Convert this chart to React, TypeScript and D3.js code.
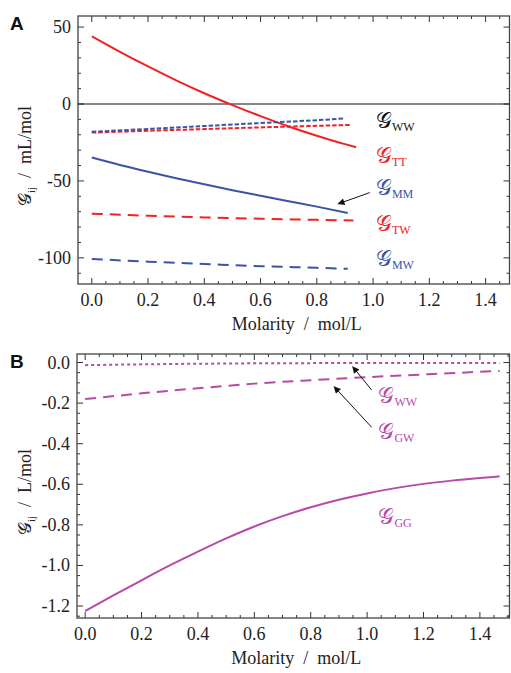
import { useEffect, useRef } from 'react';
import * as d3 from 'd3';

// Panel A (mL/mol)
const molA = [0, 0.1, 0.2, 0.3, 0.4, 0.5, 0.6, 0.7, 0.8, 0.9, 0.94];
const gTT = [44, 33.9, 24.4, 15.4, 7.0, -0.7, -7.9, -14.6, -20.6, -26.1, -28.1];
const molMM = [0, 0.1, 0.2, 0.3, 0.4, 0.5, 0.6, 0.7, 0.8, 0.91];
const gMM = [-34.8, -39.6, -44.0, -48.2, -52.2, -56.0, -59.6, -63.2, -66.7, -70.8];
const molWWblue = [0, 0.2, 0.4, 0.6, 0.8, 0.9];
const gWWblue = [-18.1, -16.2, -14.3, -12.4, -10.5, -9.4];
const molWWred = [0, 0.2, 0.4, 0.6, 0.8, 0.92];
const gWWred = [-18.6, -17.4, -16.3, -15.2, -14.2, -13.6];
const molTW = [0, 0.2, 0.4, 0.6, 0.8, 0.93];
const gTW = [-71.3, -72.6, -73.7, -74.6, -75.3, -75.7];
const molMW = [0, 0.2, 0.4, 0.6, 0.8, 0.91];
const gMW = [-100.7, -102.5, -104.0, -105.4, -106.5, -107.1];

// Panel B (L/mol)
const molB = [0, 0.1, 0.2, 0.3, 0.4, 0.5, 0.6, 0.7, 0.8, 0.9, 1.0, 1.1, 1.2, 1.3, 1.4, 1.47];
const gGG = [-1.225, -1.148, -1.073, -1.0, -0.932, -0.867, -0.808, -0.757, -0.713, -0.676, -0.645, -0.619, -0.598, -0.582, -0.569, -0.561];
const molB2 = [0, 0.2, 0.4, 0.6, 0.8, 1.0, 1.2, 1.47];
const gGW = [-0.18, -0.152, -0.127, -0.104, -0.087, -0.072, -0.059, -0.041];
const gWWb = [-0.013, -0.009, -0.006, -0.004, -0.003, -0.002, -0.002, -0.003];

const xTicks = [0, 0.2, 0.4, 0.6, 0.8, 1.0, 1.2, 1.4];
const yTicksA = [50, 0, -50, -100];
const yTicksB = [0, -0.2, -0.4, -0.6, -0.8, -1.0, -1.2];

const RED = '#ee2222';
const BLUE = '#3a54a6';
const MAG = '#b84aa6';
const SCRIPT_G = '\u{1D4A2}';

export default function App() {
  const svgRef = useRef<SVGSVGElement>(null);

  useEffect(() => {
    if (!svgRef.current) return;
    const svg = d3.select(svgRef.current);
    svg.selectAll('*').remove();

    const defs = svg.append('defs');
    defs.append('marker')
      .attr('id', 'arrowhead')
      .attr('viewBox', '0 0 10 10')
      .attr('refX', 9)
      .attr('refY', 5)
      .attr('markerWidth', 9)
      .attr('markerHeight', 7)
      .attr('markerUnits', 'userSpaceOnUse')
      .attr('orient', 'auto')
      .append('path')
      .attr('d', 'M0,0 L10,5 L0,10 z')
      .attr('fill', '#111');

    const serif = '"Liberation Serif", "DejaVu Serif", serif';

    const drawPanel = (opts: {
      x0: number; x1: number; y0: number; y1: number;
      xDomain: [number, number]; yDomain: [number, number];
      yTicks: number[]; yMinorStep: number; yFmt: (d: number) => string;
      letter: string; unit: string; zeroLine: boolean;
    }) => {
      const x = d3.scaleLinear().domain(opts.xDomain).range([opts.x0, opts.x1]);
      const y = d3.scaleLinear().domain(opts.yDomain).range([opts.y1, opts.y0]);
      const g = svg.append('g');

      // ticks, all inward on four sides
      const xMinor = d3.range(0, 1.5001, 0.05).filter(v => v >= opts.xDomain[0] && v <= opts.xDomain[1]);
      const [ya, yb] = opts.yDomain;
      const yMinor = d3.range(Math.ceil(ya / opts.yMinorStep), Math.floor(yb / opts.yMinorStep) + 1)
        .map(k => k * opts.yMinorStep);
      const isMajor = (v: number, arr: number[]) => arr.some(t => Math.abs(t - v) < 1e-6);
      const tickCol = '#333';
      xMinor.forEach(v => {
        const len = isMajor(v, xTicks) ? 6 : 3;
        g.append('line').attr('x1', x(v)).attr('x2', x(v)).attr('y1', opts.y1).attr('y2', opts.y1 - len)
          .attr('stroke', tickCol).attr('stroke-width', 1);
        g.append('line').attr('x1', x(v)).attr('x2', x(v)).attr('y1', opts.y0).attr('y2', opts.y0 + len)
          .attr('stroke', tickCol).attr('stroke-width', 1);
      });
      yMinor.forEach(v => {
        const len = isMajor(v, opts.yTicks) ? 6 : 3;
        g.append('line').attr('y1', y(v)).attr('y2', y(v)).attr('x1', opts.x0).attr('x2', opts.x0 + len)
          .attr('stroke', tickCol).attr('stroke-width', 1);
        g.append('line').attr('y1', y(v)).attr('y2', y(v)).attr('x1', opts.x1).attr('x2', opts.x1 - len)
          .attr('stroke', tickCol).attr('stroke-width', 1);
      });

      // frame
      g.append('rect')
        .attr('x', opts.x0).attr('y', opts.y0)
        .attr('width', opts.x1 - opts.x0).attr('height', opts.y1 - opts.y0)
        .attr('fill', 'none').attr('stroke', '#444').attr('stroke-width', 1.3);

      if (opts.zeroLine) {
        g.append('line').attr('x1', opts.x0).attr('x2', opts.x1).attr('y1', y(0)).attr('y2', y(0))
          .attr('stroke', '#111').attr('stroke-width', 1);
      }

      // tick labels
      xTicks.forEach(v => {
        g.append('text').attr('x', x(v)).attr('y', opts.y1 + 22)
          .attr('text-anchor', 'middle').attr('font-family', serif).attr('font-size', 18)
          .attr('fill', '#222').text(v.toFixed(1));
      });
      opts.yTicks.forEach(v => {
        g.append('text').attr('x', opts.x0 - 7).attr('y', y(v) + 6)
          .attr('text-anchor', 'end').attr('font-family', serif).attr('font-size', 18)
          .attr('fill', '#222').text(opts.yFmt(v));
      });

      // x axis title
      g.append('text').attr('x', (opts.x0 + opts.x1) / 2 + 3).attr('y', opts.y1 + 46)
        .attr('text-anchor', 'middle').attr('font-family', serif).attr('font-size', 18)
        .attr('fill', '#222').attr('xml:space', 'preserve').text('Molarity  /  mol/L');

      // y axis title
      const cy = (opts.y0 + opts.y1) / 2 + 6;
      const yt = g.append('text')
        .attr('transform', `translate(31,${cy}) rotate(-90)`)
        .attr('text-anchor', 'middle').attr('font-family', serif).attr('font-size', 18)
        .attr('fill', '#222').attr('xml:space', 'preserve');
      yt.append('tspan').text(SCRIPT_G);
      yt.append('tspan').attr('dy', 4).attr('font-size', 11).text('ij');
      yt.append('tspan').attr('dy', -4).text(`  /  ${opts.unit}`);

      // panel letter
      svg.append('text').attr('x', 10).attr('y', opts.y0 + 14)
        .attr('font-family', '"Liberation Sans", Arial, sans-serif').attr('font-weight', 'bold')
        .attr('font-size', 19).attr('fill', '#111').text(opts.letter);

      return { x, y, g };
    };

    const addLine = (g: any, x: any, y: any, xs: number[], ys: number[], color: string, dash: string | null) => {
      const line = d3.line<number>()
        .x((_, i) => x(xs[i]))
        .y(d => y(d))
        .curve(d3.curveMonotoneX);
      g.append('path').datum(ys)
        .attr('fill', 'none').attr('stroke', color).attr('stroke-width', 2)
        .attr('stroke-dasharray', dash)
        .attr('d', line);
    };

    const addLabel = (g: any, px: number, py: number, sub: string, color: string) => {
      const t = g.append('text').attr('x', px).attr('y', py)
        .attr('font-family', serif).attr('fill', color);
      t.append('tspan').attr('font-size', 22).text(SCRIPT_G);
      t.append('tspan').attr('font-size', 12).attr('dy', 3).text(sub);
    };

    const addArrow = (g: any, xa: number, ya: number, xb: number, yb: number) => {
      g.append('line').attr('x1', xa).attr('y1', ya).attr('x2', xb).attr('y2', yb)
        .attr('stroke', '#111').attr('stroke-width', 1).attr('marker-end', 'url(#arrowhead)');
    };

    // Panel A
    const A = drawPanel({
      x0: 78, x1: 509.5, y0: 16, y1: 284,
      xDomain: [-0.049, 1.485], yDomain: [-117, 57.2],
      yTicks: yTicksA, yMinorStep: 10, yFmt: d => String(d),
      letter: 'A', unit: 'mL/mol', zeroLine: true,
    });
    addLine(A.g, A.x, A.y, molA, gTT, RED, null);
    addLine(A.g, A.x, A.y, molMM, gMM, BLUE, null);
    addLine(A.g, A.x, A.y, molWWred, gWWred, RED, '4.5,2');
    addLine(A.g, A.x, A.y, molWWblue, gWWblue, BLUE, '4.5,2');
    addLine(A.g, A.x, A.y, molTW, gTW, RED, '11,7');
    addLine(A.g, A.x, A.y, molMW, gMW, BLUE, '11,7');
    addLabel(A.g, A.x(1.01), A.y(-11.5) + 6, 'WW', '#111');
    addLabel(A.g, A.x(1.01), A.y(-34.2) + 6, 'TT', RED);
    addLabel(A.g, A.x(1.01), A.y(-55.2) + 6, 'MM', BLUE);
    addLabel(A.g, A.x(1.01), A.y(-78.6) + 6, 'TW', RED);
    addLabel(A.g, A.x(1.01), A.y(-101.3) + 6, 'MW', BLUE);
    addArrow(A.g, A.x(0.988), A.y(-57.6), A.x(0.876), A.y(-64.9));

    // Panel B
    const B = drawPanel({
      x0: 77, x1: 509.5, y0: 354, y1: 618,
      xDomain: [-0.029, 1.505], yDomain: [-1.259, 0.042],
      yTicks: yTicksB, yMinorStep: 0.05, yFmt: d => d.toFixed(1),
      letter: 'B', unit: 'L/mol', zeroLine: false,
    });
    addLine(B.g, B.x, B.y, molB, gGG, MAG, null);
    addLine(B.g, B.x, B.y, molB2, gGW, MAG, '11,7');
    addLine(B.g, B.x, B.y, molB2, gWWb, MAG, '3,3');
    addLabel(B.g, B.x(1.04), B.y(-0.169) + 6, 'WW', MAG);
    addLabel(B.g, B.x(1.04), B.y(-0.347) + 6, 'GW', MAG);
    addLabel(B.g, B.x(1.04), B.y(-0.766) + 6, 'GG', MAG);
    addArrow(B.g, B.x(1.016), B.y(-0.1355), B.x(0.949), B.y(-0.0207));
    addArrow(B.g, B.x(1.016), B.y(-0.319), B.x(0.883), B.y(-0.119));
  }, []);

  return (
    <svg
      ref={svgRef}
      width={511}
      height={673}
      style={{ position: 'absolute', left: 0, top: 0, background: '#fff' }}
    />
  );
}
